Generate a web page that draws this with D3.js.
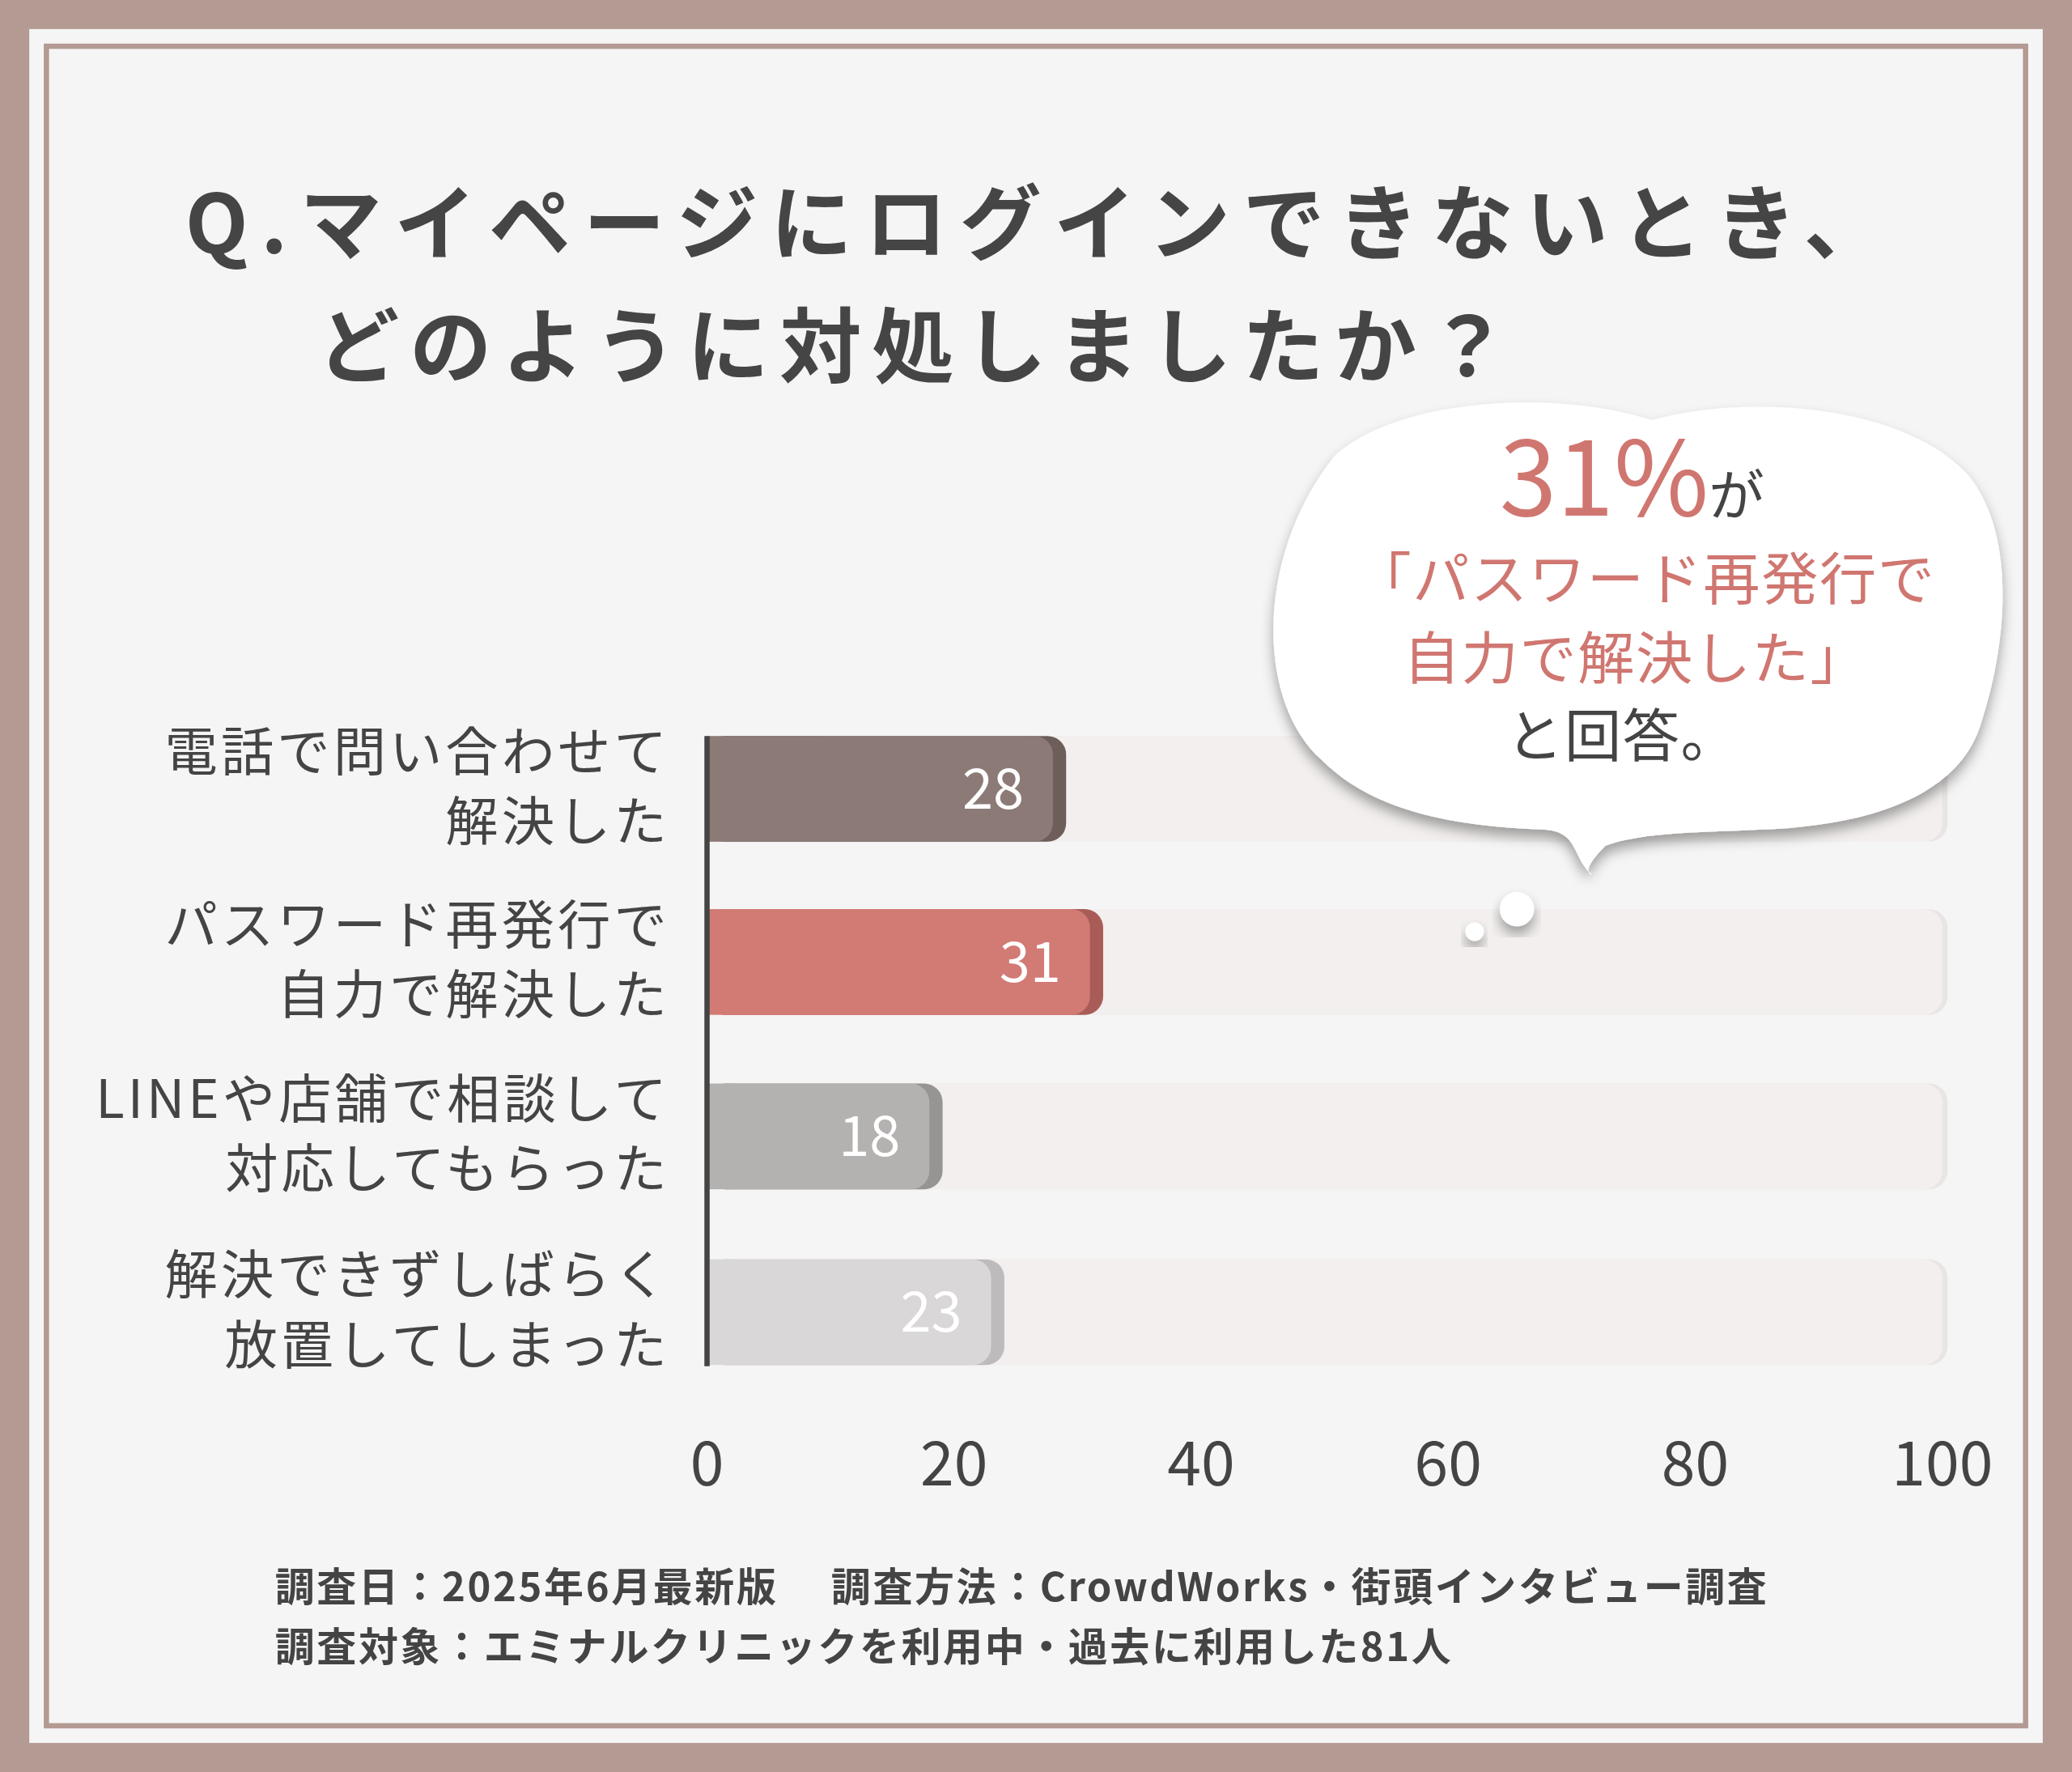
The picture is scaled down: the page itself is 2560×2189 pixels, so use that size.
<!DOCTYPE html>
<html><head><meta charset="utf-8">
<script src="https://cdn.jsdelivr.net/npm/d3@7"></script>
<style>body{margin:0;background:#b39a92;} text{font-family:"Noto Sans CJK JP","Noto Sans",sans-serif;}</style>
</head><body>
<svg id="chart" width="2560" height="2189" viewBox="0 0 1568 1341"></svg>
<script>
// データ
const categories = [
  ["電話で問い合わせて", "解決した"],
  ["パスワード再発行で", "自力で解決した"],
  ["LINEや店舗で相談して", "対応してもらった"],
  ["解決できずしばらく", "放置してしまった"]
];
const values = [28, 31, 18, 23];
const barColors = ["#8c7a76", "#d27a74", "#b4b2b1", "#d9d7d7"];
const shadeColors = ["#6e5e5a", "#a95c57", "#979594", "#bdbbbb"];
const ticks = [0, 20, 40, 60, 80, 100];
const titleLines = ["Q.マイページにログインできないとき、", "どのように対処しましたか？"];
const footerLines = ["調査日：2025年6月最新版　 調査方法：CrowdWorks・街頭インタビュー調査",
                     "調査対象：エミナルクリニックを利用中・過去に利用した81人"];

const svg = d3.select('#chart');
const defs = svg.append('defs');
const f = defs.append('filter').attr('id', 'sh').attr('x', '-20%').attr('y', '-20%').attr('width', '140%').attr('height', '150%');
f.append('feDropShadow').attr('dx', 0).attr('dy', 6).attr('stdDeviation', 5).attr('flood-color', '#000').attr('flood-opacity', 0.35);

// 枠
svg.append('rect').attr('width', 1568).attr('height', 1341).attr('fill', '#b39a92');
svg.append('rect').attr('x', 22).attr('y', 22).attr('width', 1524).attr('height', 1297).attr('fill', '#f6f5f5');
svg.append('rect').attr('x', 35).attr('y', 35).attr('width', 1498).attr('height', 1271)
  .attr('fill', 'none').attr('stroke', '#b39a92').attr('stroke-width', 4);

// タイトル
svg.append('text').attr('x', 140).attr('y', 192).attr('font-size', 62).attr('font-weight', 700)
  .attr('fill', '#454545').attr('letter-spacing', 9.5).text(titleLines[0]);
svg.append('text').attr('x', 240).attr('y', 285).attr('font-size', 62).attr('font-weight', 700)
  .attr('fill', '#454545').attr('letter-spacing', 8).text(titleLines[1]);

// スケール
const x = d3.scaleLinear().domain([0, 100]).range([535, 1470]);
const bh = 80;
const yc = i => [597, 728, 860, 993][i];
const ext = 10;

const rows = svg.selectAll('.row').data(values).join('g').attr('class', 'row');
// トラック
rows.append('rect').attr('x', x(0)).attr('y', (d, i) => yc(i) - bh / 2)
  .attr('width', x(100) - x(0) + 4).attr('height', bh).attr('rx', 14).attr('fill', '#e9e5e4');
rows.append('rect').attr('x', x(0)).attr('y', (d, i) => yc(i) - bh / 2)
  .attr('width', x(100) - x(0)).attr('height', bh).attr('rx', 14).attr('fill', '#f2efee');
// バー
rows.append('rect').attr('x', x(0)).attr('y', (d, i) => yc(i) - bh / 2)
  .attr('width', d => x(d) - x(0) + ext).attr('height', bh).attr('rx', 14).attr('fill', (d, i) => shadeColors[i]);
rows.append('rect').attr('x', x(0)).attr('y', (d, i) => yc(i) - bh / 2)
  .attr('width', d => x(d) - x(0)).attr('height', bh).attr('rx', 14).attr('fill', (d, i) => barColors[i]);
rows.append('rect').attr('x', x(0)).attr('y', (d, i) => yc(i) - bh / 2)
  .attr('width', 20).attr('height', bh).attr('fill', (d, i) => barColors[i]);
rows.append('text').attr('x', d => x(d) - 22).attr('y', (d, i) => yc(i) + 15)
  .attr('text-anchor', 'end').attr('font-size', 42).attr('fill', '#fff').text(d => d);

// 軸線
svg.append('line').attr('x1', x(0)).attr('x2', x(0)).attr('y1', 557).attr('y2', 1034)
  .attr('stroke', '#444').attr('stroke-width', 4);

// カテゴリラベル
categories.forEach((c, i) => {
  c.forEach((t, j) => {
    svg.append('text').attr('x', 507).attr('y', yc(i) - 14 + j * 53).attr('text-anchor', 'end')
      .attr('font-size', 40).attr('fill', '#444').attr('letter-spacing', 2.5).text(t);
  });
});

// 目盛り
svg.selectAll('.tick').data(ticks).join('text').attr('class', 'tick')
  .attr('x', d => x(d)).attr('y', 1124).attr('text-anchor', 'middle')
  .attr('font-size', 46).attr('fill', '#444').text(d => d);

// 吹き出し
const bubble = "M1010,345 C1060,300 1180,295 1250,318 C1320,298 1440,305 1490,360 C1530,410 1515,500 1500,545 C1485,600 1420,625 1330,628 C1290,630 1240,630 1215,640 C1205,650 1198,660 1205,662 C1190,650 1195,630 1170,628 C1100,625 1040,615 1000,575 C950,530 950,420 1010,345 Z";
svg.append('path').attr('d', bubble).attr('fill', '#fff').attr('filter', 'url(#sh)');
svg.append('circle').attr('cx', 1148).attr('cy', 688).attr('r', 13).attr('fill', '#fff').attr('filter', 'url(#sh)');
svg.append('circle').attr('cx', 1116).attr('cy', 705).attr('r', 7).attr('fill', '#fff').attr('filter', 'url(#sh)');

const bt = svg.append('text').attr('x', 1235).attr('y', 390).attr('text-anchor', 'middle');
bt.append('tspan').attr('font-size', 78).attr('fill', '#d07670').text(values[1] + '%');
bt.append('tspan').attr('font-size', 42).attr('fill', '#444').text('が');
svg.append('text').attr('x', 1245).attr('y', 454).attr('text-anchor', 'middle').attr('font-size', 43)
  .attr('fill', '#d07670').attr('letter-spacing', 1).text('「パスワード再発行で');
svg.append('text').attr('x', 1238).attr('y', 514).attr('text-anchor', 'middle').attr('font-size', 43)
  .attr('fill', '#d07670').attr('letter-spacing', 1).text('自力で解決した」');
svg.append('text').attr('x', 1228).attr('y', 573).attr('text-anchor', 'middle').attr('font-size', 43)
  .attr('fill', '#444').attr('letter-spacing', 1).text('と回答。');

// 注記
footerLines.forEach((t, i) => {
  svg.append('text').attr('x', 208).attr('y', 1212 + i * 45).attr('font-size', 30).attr('font-weight', 700)
    .attr('fill', '#444').attr('letter-spacing', 1.6).text(t);
});
</script>
</body></html>
